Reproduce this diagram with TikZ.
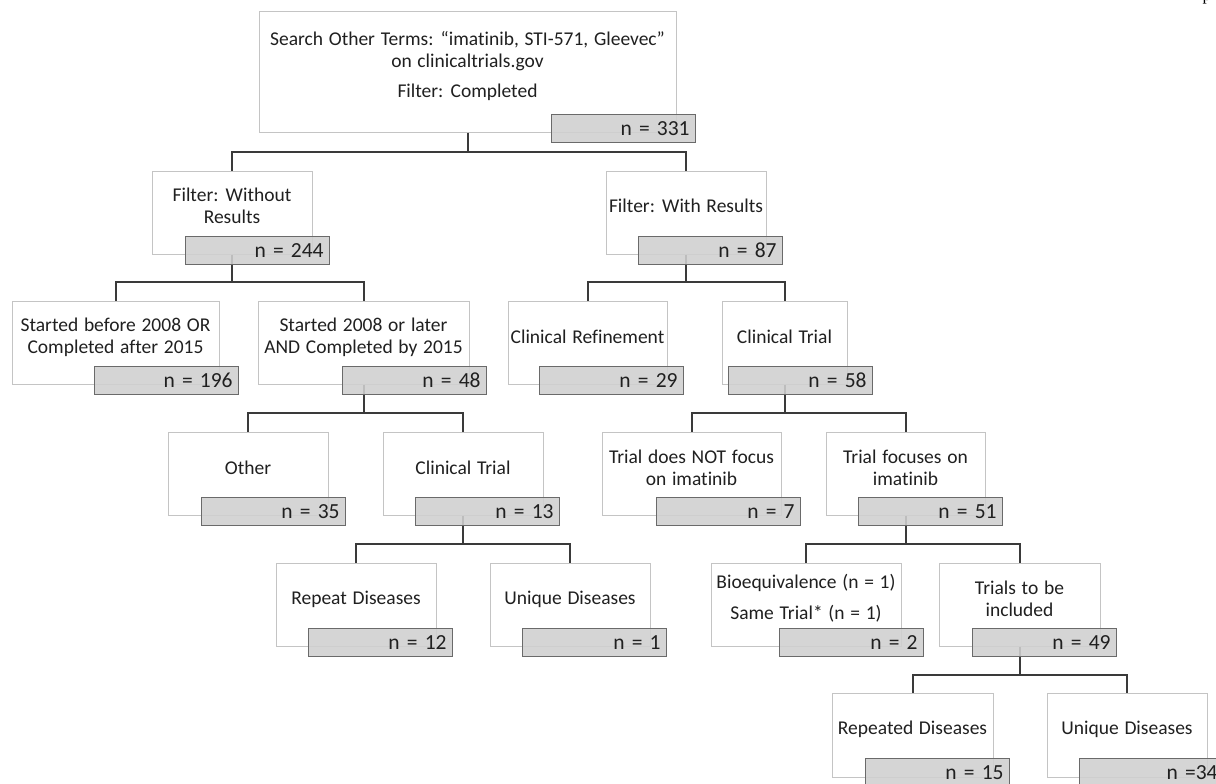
\documentclass[tikz,border=0pt]{standalone}
\usepackage{fontspec}
\setmainfont{Carlito}[Ligatures=NoCommon, WordSpace=1.3]
\newfontfamily\serifp{Liberation Serif}
\usetikzlibrary{fit}
\definecolor{conncol}{HTML}{3A3A3A}
\definecolor{wborder}{HTML}{C4C4C4}
\definecolor{gborder}{HTML}{6A6A6A}
\definecolor{gfill}{HTML}{D0D0D0}
\definecolor{txt}{HTML}{202020}
\begin{document}
\begin{tikzpicture}[x=1pt,y=-1pt,
  wbox/.style={draw=wborder, line width=1pt, fill=white, inner sep=0pt},
  gbox/.style={draw=gborder, line width=1.2pt, fill=gfill, fill opacity=0.88, text opacity=1,
    minimum width=144pt, minimum height=28pt, inner xsep=6pt, inner ysep=0pt,
    text width=132pt, align=right, anchor=north west, text=txt,
    font=\fontsize{21.5}{24}\selectfont},
  lbl/.style={align=center, font=\fontsize{19.5}{22}\selectfont, text=txt, inner sep=0pt},
  conn/.style={draw=conncol, line width=2pt}]
\useasboundingbox (0,0) rectangle (1216,784);
\clip (0,0) rectangle (1216,784);
\fill[white] (0,0) rectangle (1216,784);

% ---------- white boxes ----------
\node[wbox, fit={(259,12) (676,132)}] (top) {};
\node[wbox, fit={(152,171) (312,254)}] (L) {};
\node[wbox, fit={(606,171) (766,254)}] (R) {};
\node[wbox, fit={(12,301) (219,384)}] (LL) {};
\node[wbox, fit={(258,301) (469,384)}] (LR) {};
\node[wbox, fit={(508,301) (667,384)}] (RL) {};
\node[wbox, fit={(722,301) (847,384)}] (RR) {};
\node[wbox, fit={(168,432) (328,515)}] (LRL) {};
\node[wbox, fit={(383,432) (543,515)}] (LRR) {};
\node[wbox, fit={(602,432) (781,515)}] (RRL) {};
\node[wbox, fit={(826,432) (985,515)}] (RRR) {};
\node[wbox, fit={(276,563) (436,646)}] (LRRL) {};
\node[wbox, fit={(490,563) (650,646)}] (LRRR) {};
\node[wbox, fit={(711,563) (901,646)}] (RRRL) {};
\node[wbox, fit={(939,563) (1100,646)}] (RRRR) {};
\node[wbox, fit={(832,693) (993,777)}] (RRRRL) {};
\node[wbox, fit={(1047,693) (1207,777)}] (RRRRR) {};

% ---------- junctions ----------
\coordinate (j0) at (467.5,152);
\coordinate (j1) at (232,282);
\coordinate (j2) at (686,282);
\coordinate (j3) at (363.5,413);
\coordinate (j4) at (784.5,413);
\coordinate (j5) at (463,544);
\coordinate (j6) at (905.5,544);
\coordinate (j7) at (1019.5,675);

% ---------- connectors ----------
\draw[conn] (top.south) -- (j0) -| (L.north);
\draw[conn] (j0) -| (R.north);
\draw[conn] (L.south) -- (j1) -| (LL.north);
\draw[conn] (j1) -| (LR.north);
\draw[conn] (R.south) -- (j2) -| (RL.north);
\draw[conn] (j2) -| (RR.north);
\draw[conn] (LR.south) -- (j3) -| (LRL.north);
\draw[conn] (j3) -| (LRR.north);
\draw[conn] (RR.south) -- (j4) -| (RRL.north);
\draw[conn] (j4) -| (RRR.north);
\draw[conn] (LRR.south) -- (j5) -| (LRRL.north);
\draw[conn] (j5) -| (LRRR.north);
\draw[conn] (RRR.south) -- (j6) -| (RRRL.north);
\draw[conn] (j6) -| (RRRR.north);
\draw[conn] (RRRR.south) -- (j7) -| (RRRRL.north);
\draw[conn] (j7) -| (RRRRR.north);

% ---------- gray count boxes ----------
\node[gbox] (topN) at (551,114) {n = 331};
\node[gbox] (LN) at (185,235.5) {n = 244};
\node[gbox] (RN) at (638,235.5) {n = 87};
\node[gbox] (LLN) at (94,366) {n = 196};
\node[gbox] (LRN) at (342,366) {n = 48};
\node[gbox] (RLN) at (539,366) {n = 29};
\node[gbox] (RRN) at (728,366) {n = 58};
\node[gbox] (LRLN) at (201,497) {n = 35};
\node[gbox] (LRRN) at (415,497) {n = 13};
\node[gbox] (RRLN) at (656,497) {n = 7};
\node[gbox] (RRRN) at (858,497) {n = 51};
\node[gbox] (LRRLN) at (308,628) {n = 12};
\node[gbox] (LRRRN) at (522,628) {n = 1};
\node[gbox] (RRRLN) at (779,628) {n = 2};
\node[gbox] (RRRRN) at (972,628) {n = 49};
\node[gbox] (RRRRLN) at (865,758) {n = 15};
\node[gbox] (RRRRRN) at (1079,758) {n =34};

% ---------- box texts ----------
\node[lbl] (topT) at (467.5,66) {Search Other Terms: “imatinib, STI-571, Gleevec”\\ on clinicaltrials.gov\\[8pt] Filter: Completed};
\node[lbl] (LT) at (232,206) {Filter: Without\\ Results};
\node[lbl] (RT) at (686,206) {Filter: With Results};
\node[lbl] (LLT) at (115.5,337) {Started before 2008 OR\\ Completed after 2015};
\node[lbl] (LRT) at (363.5,337.5) {Started 2008 or later\\ AND Completed by 2015};
\node[lbl] (RLT) at (587.5,337) {Clinical Refinement};
\node[lbl] (RRT) at (784.5,337) {Clinical Trial};
\node[lbl] (LRLT) at (248,468) {Other};
\node[lbl] (LRRT) at (463,468) {Clinical Trial};
\node[lbl] (RRLT) at (691.5,468) {Trial does NOT focus\\ on imatinib};
\node[lbl] (RRRT) at (905.5,468) {Trial focuses on\\ imatinib};
\node[lbl] (LRRLT) at (356,599) {Repeat Diseases};
\node[lbl] (LRRRT) at (570,599) {Unique Diseases};
\node[lbl] (RRRLT) at (806,598) {Bioequivalence (n = 1)\\[9pt] Same Trial* (n = 1)};
\node[lbl] (RRRRT) at (1019.5,598.5) {Trials to be\\ included};
\node[lbl] (RRRRLT) at (912.5,729) {Repeated Diseases};
\node[lbl] (RRRRRT) at (1127,729) {Unique Diseases};

% ---------- page mark cut at the top edge ----------
\node[anchor=base west, inner sep=0pt, font=\serifp\fontsize{17}{17}\selectfont] (pg) at (1202.5,0.5) {p};
\end{tikzpicture}
\end{document}
